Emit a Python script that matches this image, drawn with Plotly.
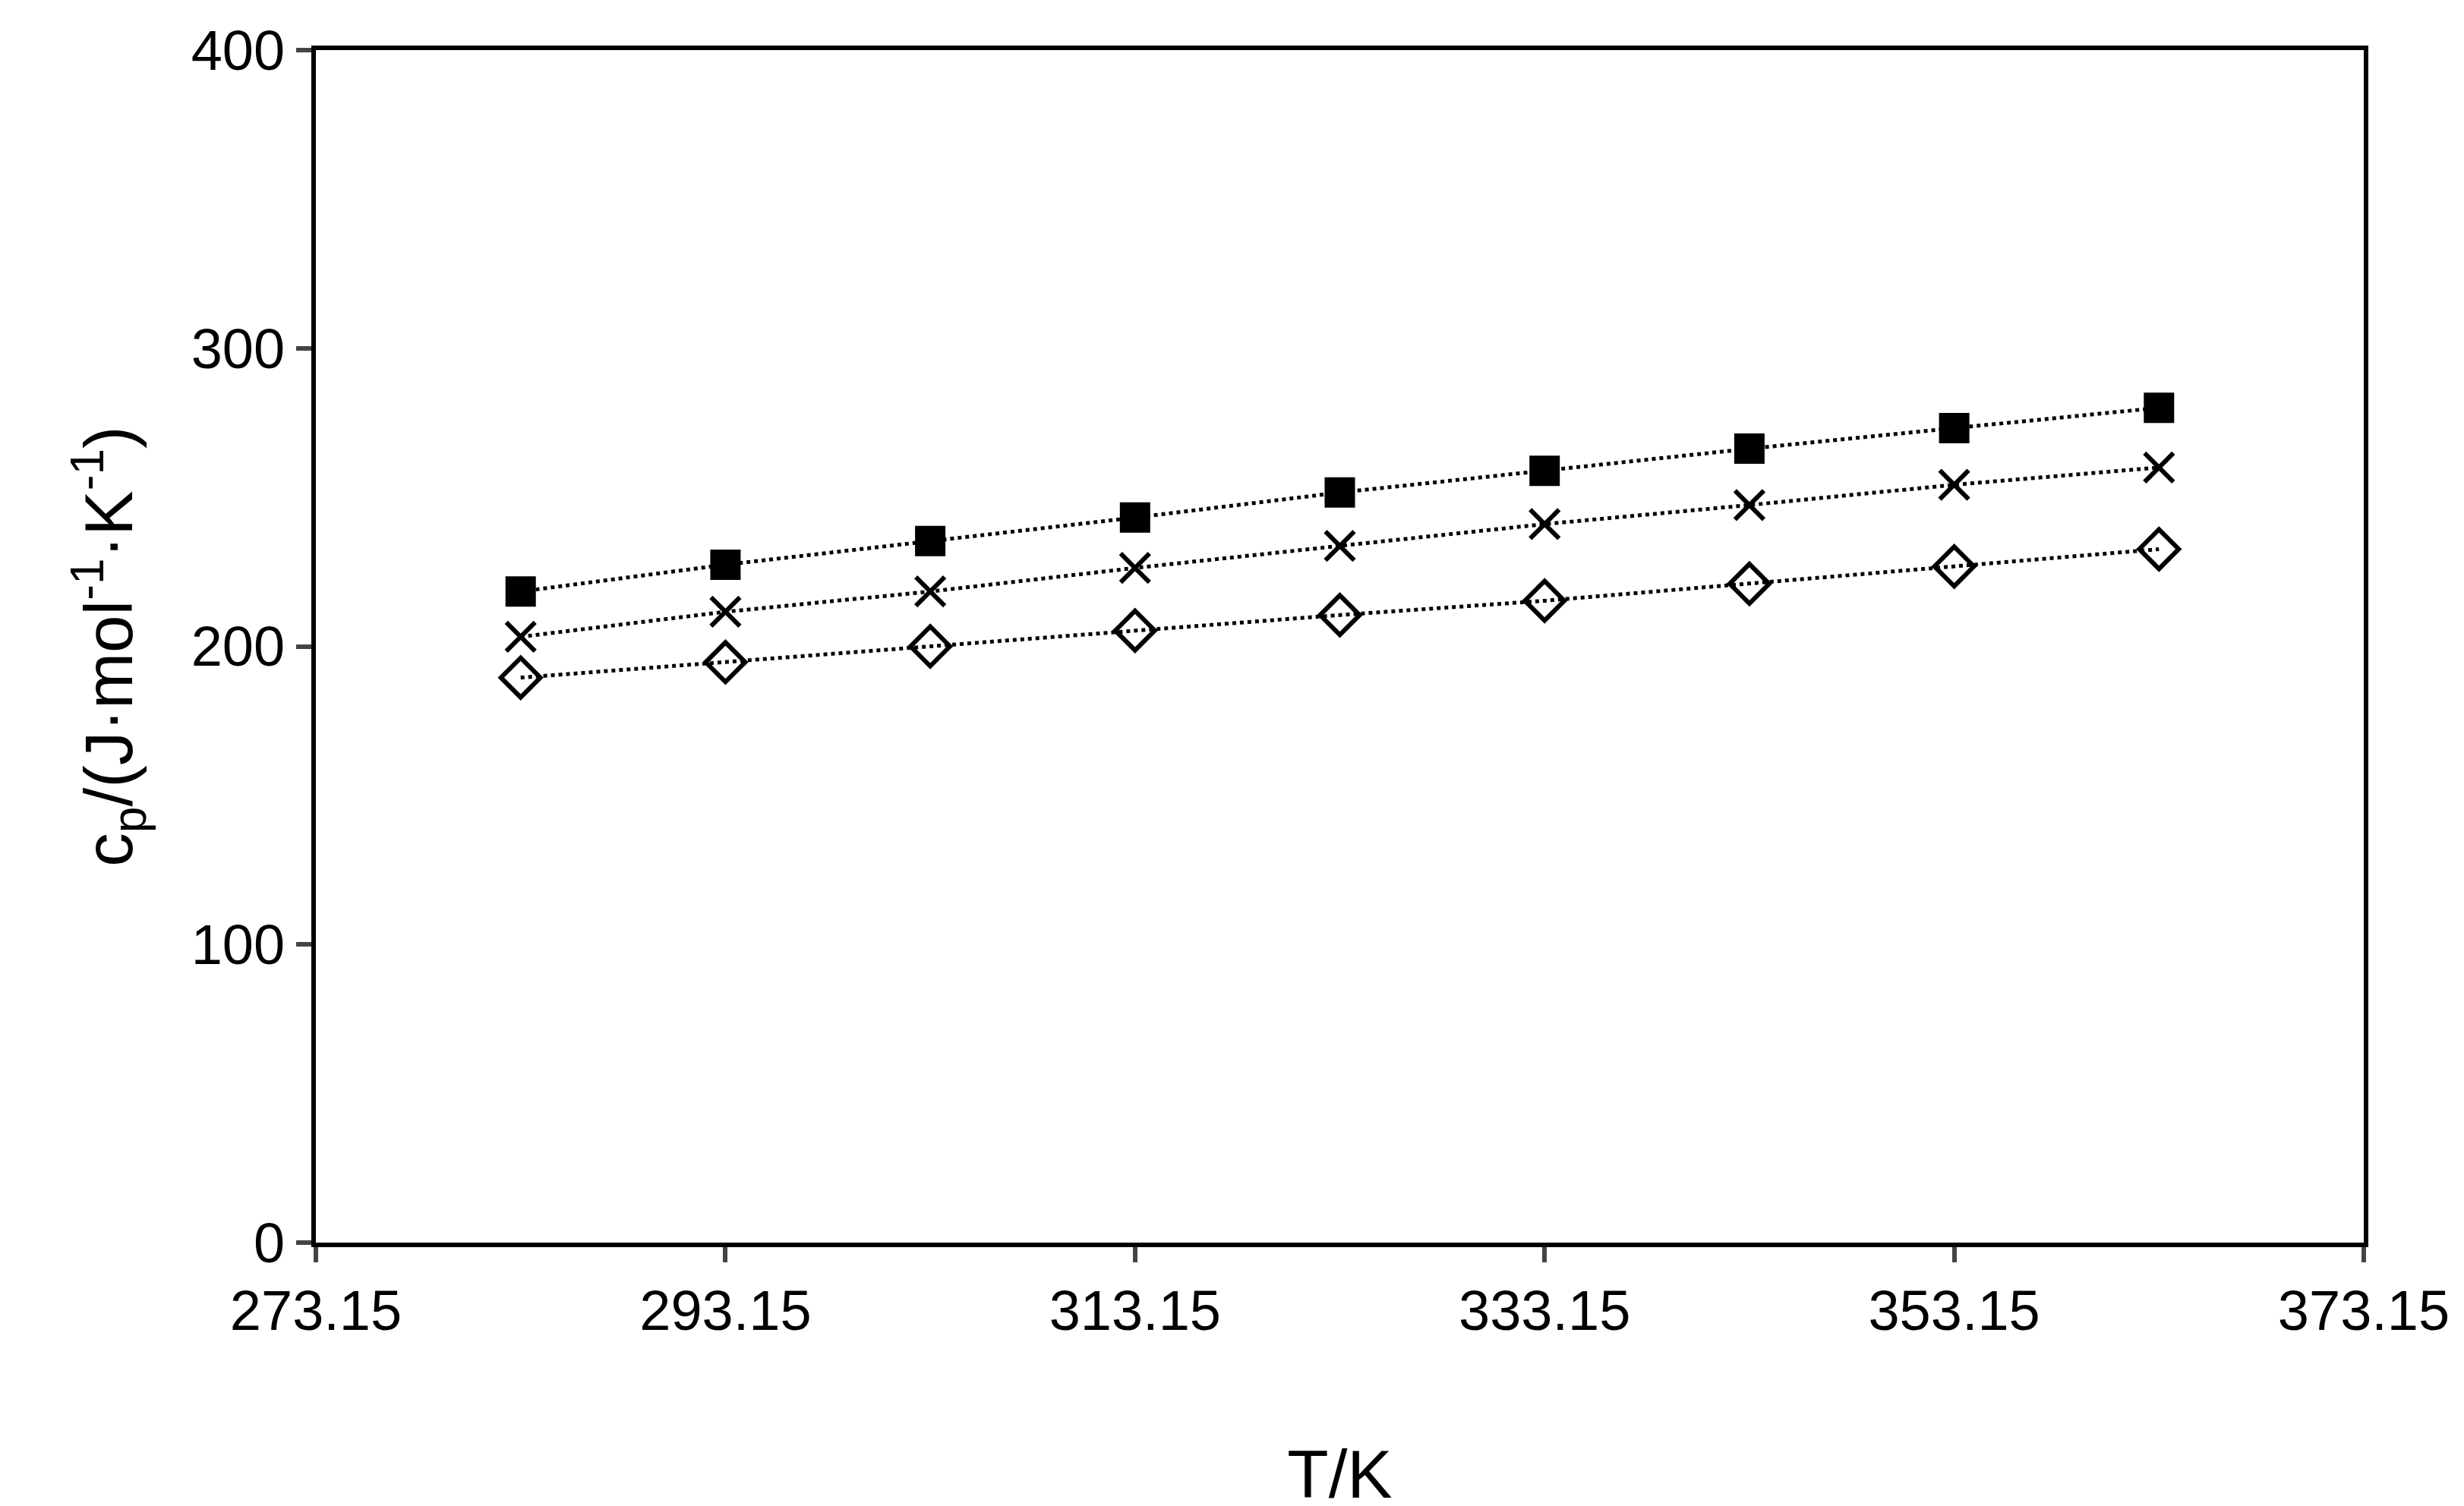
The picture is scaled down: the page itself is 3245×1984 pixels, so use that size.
import plotly.graph_objects as go

T = [283.15, 293.15, 303.15, 313.15, 323.15, 333.15, 343.15, 353.15, 363.15]
cp_square = [218.4, 227.4, 235.3, 243.2, 251.6, 258.9, 266.3, 273.2, 280.0]
cp_cross = [203.2, 211.6, 218.4, 226.3, 233.7, 241.0, 247.4, 254.2, 260.0]
cp_diamond = [189.5, 194.7, 200.0, 205.3, 210.5, 215.3, 221.0, 226.8, 232.6]
xticks = [273.15, 293.15, 313.15, 333.15, 353.15, 373.15]

fig = go.Figure()
line = dict(color="black", width=5, dash="dot")
fig.add_trace(go.Scatter(x=T, y=cp_square, mode="lines+markers", line=line,
    marker=dict(symbol="square", size=40, color="black")))
fig.add_trace(go.Scatter(x=T, y=cp_cross, mode="lines+markers", line=line,
    marker=dict(symbol="x-thin", size=38, color="black", line=dict(width=6, color="black"))))
fig.add_trace(go.Scatter(x=T, y=cp_diamond, mode="lines+markers", line=line,
    marker=dict(symbol="diamond-open", size=40, color="black", line=dict(width=6, color="black"))))

font = dict(family="Liberation Sans, Arial", size=74, color="black")
fig.update_layout(
    width=3245, height=1984, showlegend=False,
    plot_bgcolor="white", paper_bgcolor="white", font=font,
    margin=dict(l=408, r=140, t=58, b=353),
    xaxis=dict(range=[273.15, 373.15], tickvals=xticks, ticktext=[f"{v:.2f}" for v in xticks],
               showline=True, linecolor="black", linewidth=6, mirror=True, showgrid=False,
               ticks="outside", ticklen=20, tickwidth=6, zeroline=False,
               title=dict(text="T/K", standoff=150)),
    yaxis=dict(range=[0, 400], tickvals=[0, 100, 200, 300, 400],
               showline=True, linecolor="black", linewidth=6, mirror=True, showgrid=False,
               ticks="outside", ticklen=20, tickwidth=6, zeroline=False,
               title=dict(text="c<sub>p</sub>/(J·mol<sup>-1</sup>·K<sup>-1</sup>)", standoff=50)),
)
fig.write_html("out.html")
